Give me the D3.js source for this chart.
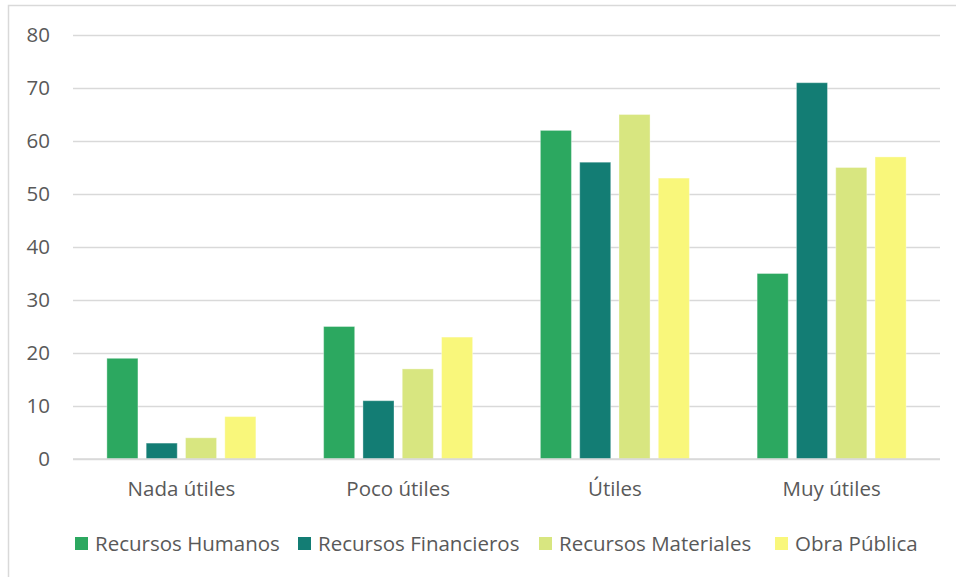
<!DOCTYPE html>
<html>
<head>
<meta charset="utf-8">
<script src="https://cdn.jsdelivr.net/npm/d3@7"></script>
<style>
  html, body { margin: 0; padding: 0; background: #fff; }
  svg { display: block; }
  text { font-family: "Open Sans", "Noto Sans", sans-serif; fill: #595959; }
</style>
</head>
<body>
<svg id="chart" width="956" height="577"></svg>
<script>
// Categories, series and values
const categories = ["Nada útiles", "Poco útiles", "Útiles", "Muy útiles"];
const seriesNames = ["Recursos Humanos", "Recursos Financieros", "Recursos Materiales", "Obra Pública"];
const recursosHumanos = [19, 25, 62, 35];
const recursosFinancieros = [3, 11, 56, 71];
const recursosMateriales = [4, 17, 65, 55];
const obraPublica = [8, 23, 53, 57];
const yTicks = [0, 10, 20, 30, 40, 50, 60, 70, 80];
const seriesColors = ["#2ca860", "#137d74", "#d8e680", "#f9f77b"];

const seriesValues = [recursosHumanos, recursosFinancieros, recursosMateriales, obraPublica];

const svg = d3.select("#chart");
const W = 956, H = 577;
const plot = { left: 73, right: 940, top: 35, bottom: 459 };
const fontSize = 20.5;

// Outer frame (left and top edges visible inside the view)
svg.append("rect")
  .attr("x", 8.5).attr("y", 5.5)
  .attr("width", W).attr("height", H)
  .attr("fill", "none").attr("stroke", "#d9d9d9").attr("stroke-width", 1.5);

const y = d3.scaleLinear().domain([0, 80]).range([plot.bottom, plot.top]);

const x0 = d3.scaleBand()
  .domain(categories)
  .range([plot.left, plot.right])
  .paddingInner(0.3126)
  .paddingOuter(0.1563);

const x1 = d3.scaleBand()
  .domain(seriesNames)
  .range([0, x0.bandwidth()])
  .paddingInner(0.21);

// Gridlines and y labels
const yAxis = d3.axisLeft(y)
  .tickValues(yTicks)
  .tickSize(-(plot.right - plot.left))
  .tickPadding(23)
  .tickFormat(d3.format("d"));

const gy = svg.append("g")
  .attr("transform", `translate(${plot.left},0)`)
  .call(yAxis);
gy.select(".domain").remove();
gy.selectAll(".tick line").attr("stroke", "#d9d9d9").attr("stroke-width", 1.5);
gy.selectAll(".tick text")
  .attr("font-size", fontSize)
  .attr("fill", "#595959")
  .style("font-family", '"Open Sans", sans-serif');

// Bars
const groups = svg.append("g").selectAll("g")
  .data(categories)
  .join("g")
  .attr("transform", d => `translate(${x0(d)},0)`);

groups.selectAll("rect")
  .data((c, ci) => seriesNames.map((s, si) => ({ s, si, v: seriesValues[si][ci] })))
  .join("rect")
  .attr("x", d => x1(d.s))
  .attr("width", x1.bandwidth())
  .attr("y", d => y(d.v))
  .attr("height", d => y(0) - y(d.v))
  .attr("fill", d => seriesColors[d.si])
  .attr("stroke", "#ffffff")
  .attr("stroke-opacity", 0.35)
  .attr("stroke-width", 1);

// Baseline on top of bars
svg.append("line")
  .attr("x1", plot.left).attr("x2", plot.right)
  .attr("y1", y(0)).attr("y2", y(0))
  .attr("stroke", "#d9d9d9").attr("stroke-width", 1.5);

// Category labels
const xAxis = d3.axisBottom(x0).tickSize(0).tickPadding(22);
const gx = svg.append("g")
  .attr("transform", `translate(0,${plot.bottom})`)
  .call(xAxis);
gx.select(".domain").remove();
gx.selectAll(".tick text")
  .attr("font-size", fontSize)
  .attr("fill", "#595959")
  .style("font-family", '"Open Sans", sans-serif');

// Legend
const legendX = [75, 298, 539, 775];
const legend = svg.append("g").selectAll("g")
  .data(seriesNames)
  .join("g")
  .attr("transform", (d, i) => `translate(${legendX[i]},537)`);
legend.append("rect")
  .attr("width", 13).attr("height", 13)
  .attr("fill", (d, i) => seriesColors[i]);
legend.append("text")
  .attr("x", 20).attr("y", 6.5)
  .attr("dy", "0.35em")
  .attr("font-size", fontSize)
  .text(d => d);
</script>
</body>
</html>
